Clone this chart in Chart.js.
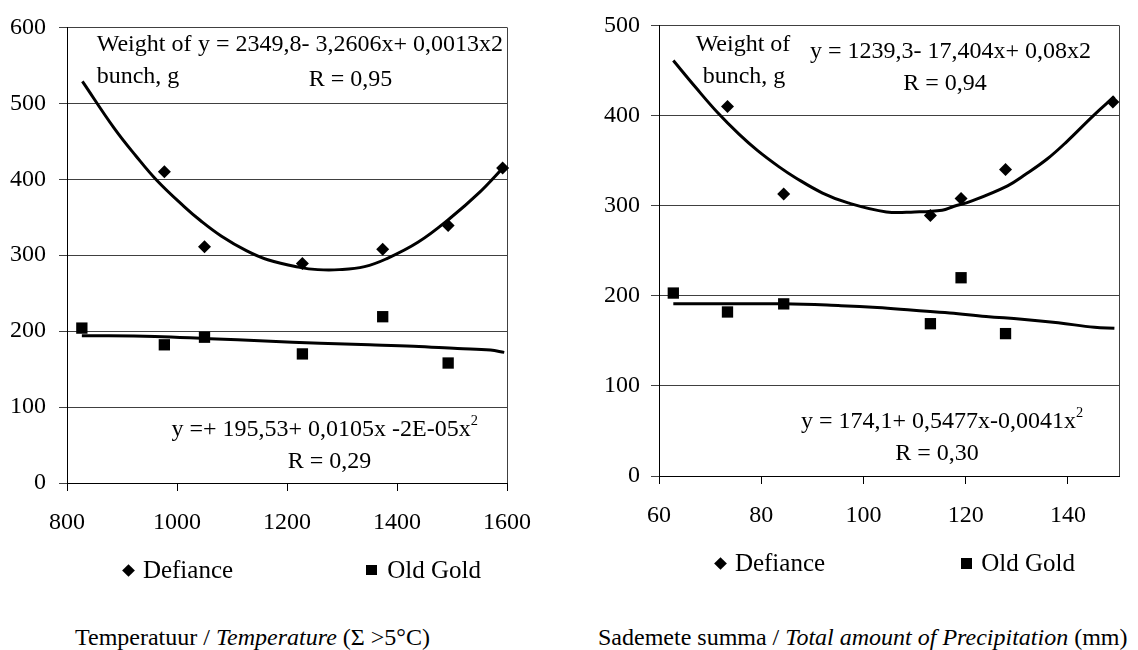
<!DOCTYPE html>
<html>
<head>
<meta charset="utf-8">
<script src="https://cdn.jsdelivr.net/npm/chart.js@4"></script>
<style>
  html, body { margin: 0; padding: 0; background: #fff; }
  body { width: 1138px; height: 650px; position: relative; overflow: hidden;
         font-family: 'Liberation Serif', 'Times New Roman', serif; color: #000; }
  canvas { position: absolute; top: 0; }
  .t { position: absolute; font-size: 24px; line-height: 24px; white-space: nowrap; }
  .lg { font-size: 25px; }
  .c { transform: translateX(-50%); }
  sup { font-size: 0.6em; line-height: 0; vertical-align: 0.75em; }
  .dia { position: absolute; width: 9px; height: 9px; background: #000; transform: rotate(45deg); }
  .sq { position: absolute; width: 10.5px; height: 10.5px; background: #000; }
</style>
</head>
<body>
<canvas id="c1" width="560" height="560" style="left:0px;width:560px;height:560px"></canvas>
<canvas id="c2" width="568" height="560" style="left:570px;width:568px;height:560px"></canvas>

<!-- left chart annotations -->
<div class="t" style="left:96.7px;top:31px">Weight of</div>
<div class="t" style="left:96.7px;top:63px">bunch, g</div>
<div class="t" style="left:198px;top:31px">y = 2349,8- 3,2606x+ 0,0013x2</div>
<div class="t c" style="left:350.5px;top:66px">R = 0,95</div>
<div class="t" style="left:171.4px;top:416px">y =+ 195,53+ 0,0105x -2E-05x<sup>2</sup></div>
<div class="t c" style="left:329.5px;top:448px">R = 0,29</div>

<!-- right chart annotations -->
<div class="t c" style="left:743px;top:31px">Weight of</div>
<div class="t c" style="left:744px;top:63px">bunch, g</div>
<div class="t" style="left:810px;top:38px">y = 1239,3- 17,404x+ 0,08x2</div>
<div class="t c" style="left:945px;top:70px">R = 0,94</div>
<div class="t" style="left:801px;top:408px">y = 174,1+ 0,5477x-0,0041x<sup>2</sup></div>
<div class="t c" style="left:937px;top:440px">R = 0,30</div>

<!-- legends -->
<div class="dia" style="left:124.1px;top:565.5px"></div>
<div class="t lg" style="left:142.9px;top:557.5px">Defiance</div>
<div class="sq" style="left:366.1px;top:564.7px"></div>
<div class="t lg" style="left:387.3px;top:557.5px">Old Gold</div>

<div class="dia" style="left:715.9px;top:558.8px"></div>
<div class="t lg" style="left:734.9px;top:550.8px">Defiance</div>
<div class="sq" style="left:961.4px;top:558px"></div>
<div class="t lg" style="left:981.2px;top:550.8px">Old Gold</div>

<!-- captions -->
<div class="t" style="left:75px;top:625px">Temperatuur / <i>Temperature</i> (Σ &gt;5°C)</div>
<div class="t" style="left:598px;top:625px">Sademete summa / <i>Total amount of Precipitation</i> (mm)</div>

<script>
// ---------- Data: Temperature chart ----------
const tempX         = [827, 977, 1050, 1228, 1374, 1493, 1592];
const tempDefiance  = [null, 410, 311, 289, 308, 339, 415];
const tempOldGold   = [204, 182, 192, 170, 219, 158, null];
const tempDefTrendX = [828, 886, 925, 964, 1013, 1042, 1081, 1126, 1165, 1223, 1256, 1295, 1341, 1380, 1438, 1497, 1549, 1594];
const tempDefTrendY = [529, 467, 431, 398, 364, 346, 325, 306, 294, 284, 281, 281, 285, 295, 317, 349, 382, 416];
const tempOldTrendX = [827, 960, 1060, 1160, 1260, 1350, 1430, 1510, 1570, 1595];
const tempOldTrendY = [194, 193, 190, 187, 184, 182, 180, 177, 175, 172];
const tempXTicks    = [800, 1000, 1200, 1400, 1600];
const tempYTicks    = [0, 100, 200, 300, 400, 500, 600];

// ---------- Data: Precipitation chart ----------
const precX         = [62.8, 73.4, 84.4, 113.1, 119.1, 127.8, 148.8];
const precDefiance  = [null, 410, 313, 289, 308, 340, 415];
const precOldGold   = [203, 182, 191, 169, 220, 158, null];
const precDefTrendX = [62.8, 67.2, 71.5, 75.7, 79.3, 83.5, 86.7, 92, 97, 104.5, 110, 115.4, 117.6, 121.1, 128.2, 131.8, 136, 139.6, 145.2, 149.1];
const precDefTrendY = [461, 431, 403, 379, 361, 343, 331, 314, 303, 293, 293, 295, 299, 305, 322, 335, 352, 370, 401, 421];
const precOldTrendX = [62.8, 84.3, 95.6, 102.7, 109.8, 116.9, 124, 131, 138.1, 145.2, 149.1];
const precOldTrendY = [191, 191, 189, 187, 184, 181, 177, 174, 170, 165, 164];
const precXTicks    = [60, 80, 100, 120, 140];
const precYTicks    = [0, 100, 200, 300, 400, 500];

const seriesNames = ['Defiance', 'Old Gold'];

Chart.defaults.font.family = "'Liberation Serif', 'Times New Roman', serif";
Chart.defaults.font.size = 24;
Chart.defaults.color = '#000';

function pts(xs, ys) {
  return xs.map((x, i) => ({ x: x, y: ys[i] })).filter(p => p.y !== null && p.y !== undefined);
}

const frameRight = {
  id: 'frameRight',
  beforeDatasetsDraw(chart) {
    const a = chart.chartArea, ctx = chart.ctx;
    const x = Math.round(a.right) + 0.5;
    ctx.save();
    ctx.strokeStyle = '#404040';
    ctx.lineWidth = 1;
    ctx.beginPath();
    ctx.moveTo(x, a.top);
    ctx.lineTo(x, a.bottom);
    ctx.stroke();
    ctx.restore();
  }
};

function makeChart(id, cfg) {
  const datasets = [
    { label: seriesNames[0], data: pts(cfg.x, cfg.def), pointStyle: 'rectRot', pointRadius: 6.5,
      backgroundColor: '#000', borderColor: '#000', borderWidth: 0, showLine: false, clip: false },
    { label: seriesNames[1], data: pts(cfg.x, cfg.old), pointStyle: 'rect', pointRadius: 8,
      backgroundColor: '#000', borderColor: '#000', borderWidth: 0, showLine: false, clip: false },
    { label: seriesNames[0] + ' trend', data: pts(cfg.defTX, cfg.defTY), showLine: true, pointRadius: 0,
      borderColor: '#000', borderWidth: 3, tension: 0.4, fill: false },
    { label: seriesNames[1] + ' trend', data: pts(cfg.oldTX, cfg.oldTY), showLine: true, pointRadius: 0,
      borderColor: '#000', borderWidth: 3, tension: 0.4, fill: false }
  ];
  return new Chart(document.getElementById(id), {
    type: 'scatter',
    data: { datasets },
    options: {
      responsive: false,
      animation: false,
      devicePixelRatio: 1,
      layout: { padding: { left: 0, top: cfg.padTop, right: cfg.padRight, bottom: 0 } },
      plugins: { legend: { display: false }, tooltip: { enabled: false } },
      scales: {
        x: {
          type: 'linear', min: cfg.xMin, max: cfg.xMax,
          afterBuildTicks: s => { s.ticks = cfg.xTicks.map(v => ({ value: v })); },
          afterFit: s => { s.height = cfg.xHeight; },
          ticks: { padding: 17, maxRotation: 0, autoSkip: false, font: { size: 24 }, color: '#000',
                   callback: v => String(v) },
          grid: { drawOnChartArea: false, drawTicks: true, tickLength: 8, color: '#000', lineWidth: 1 },
          border: { display: true, color: '#000', width: 1 }
        },
        y: {
          type: 'linear', min: cfg.yMin, max: cfg.yMax,
          afterBuildTicks: s => { s.ticks = cfg.yTicks.map(v => ({ value: v })); },
          afterFit: s => { s.width = cfg.yWidth; },
          ticks: { padding: cfg.yPad, font: { size: 24 }, color: '#000', callback: v => String(v) },
          grid: { drawOnChartArea: true, drawTicks: true, tickLength: 8, color: '#404040', lineWidth: 1 },
          border: { display: true, color: '#000', width: 1 }
        }
      }
    },
    plugins: [frameRight]
  });
}

makeChart('c1', {
  x: tempX, def: tempDefiance, old: tempOldGold,
  defTX: tempDefTrendX, defTY: tempDefTrendY, oldTX: tempOldTrendX, oldTY: tempOldTrendY,
  xMin: 800, xMax: 1600, yMin: 0, yMax: 600, xTicks: tempXTicks, yTicks: tempYTicks,
  padTop: 21, padRight: 53, xHeight: 77, yWidth: 67, yPad: 13
});

makeChart('c2', {
  x: precX, def: precDefiance, old: precOldGold,
  defTX: precDefTrendX, defTY: precDefTrendY, oldTX: precOldTrendX, oldTY: precOldTrendY,
  xMin: 60, xMax: 150, yMin: 0, yMax: 500, xTicks: precXTicks, yTicks: precYTicks,
  padTop: 17, padRight: 19, xHeight: 84, yWidth: 89, yPad: 11
});
</script>
</body>
</html>
